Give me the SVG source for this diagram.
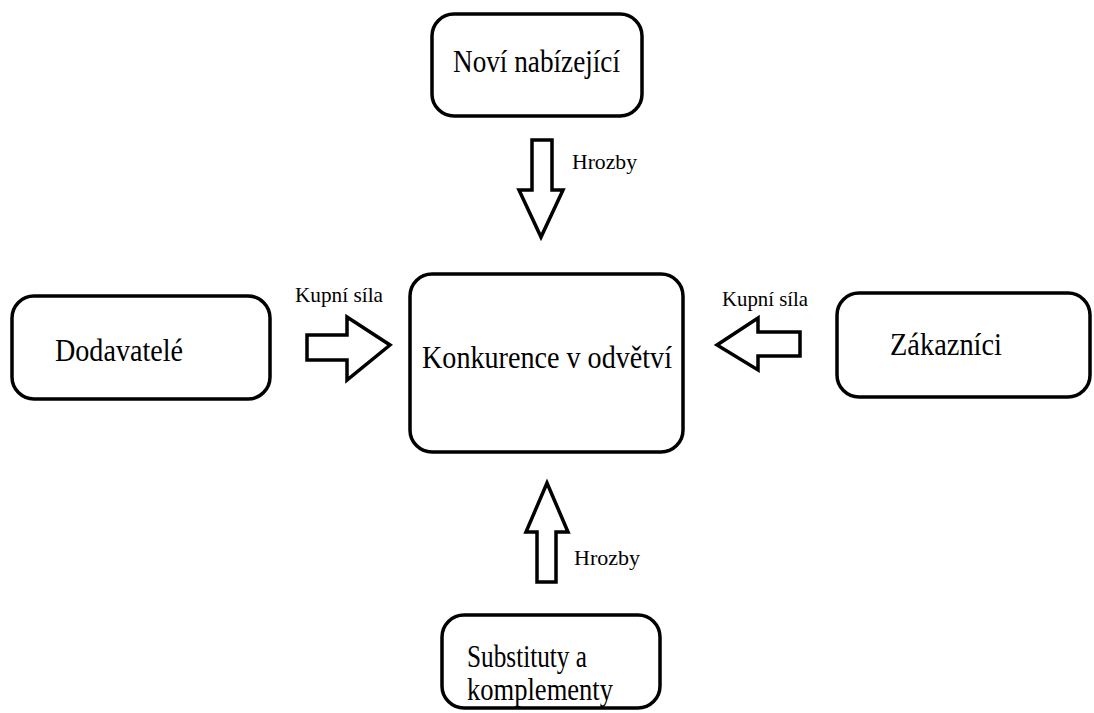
<svg xmlns="http://www.w3.org/2000/svg" width="1094" height="713" viewBox="0 0 1094 713">
<style>
.box{fill:#fff;stroke:#000;stroke-width:3.5}
.arr{fill:#fff;stroke:#000;stroke-width:3.5;stroke-linejoin:miter}
.t{font-family:"Liberation Serif","Times New Roman",serif;fill:#000}
.big{font-size:32px}
.sm{font-size:21px}
</style>
<rect width="1094" height="713" fill="#fff"/>
<g id="novi">
<rect class="box" x="432" y="14" width="210" height="102" rx="22"/>
<text class="t big" x="453" y="72" textLength="167" lengthAdjust="spacingAndGlyphs">Noví nabízející</text>
</g>
<g id="dodavatele">
<rect class="box" x="12" y="296" width="258" height="103" rx="22"/>
<text class="t big" x="55" y="361" textLength="128" lengthAdjust="spacingAndGlyphs">Dodavatelé</text>
</g>
<g id="konkurence">
<rect class="box" x="410" y="274" width="273" height="178" rx="22"/>
<text class="t big" x="422" y="368" textLength="250" lengthAdjust="spacingAndGlyphs">Konkurence v odvětví</text>
</g>
<g id="zakaznici">
<rect class="box" x="837" y="293" width="253" height="104" rx="22"/>
<text class="t big" x="890" y="355" textLength="112" lengthAdjust="spacingAndGlyphs">Zákazníci</text>
</g>
<g id="substituty">
<rect class="box" x="442" y="615" width="218" height="93" rx="22"/>
<text class="t big" x="467" y="667" textLength="120" lengthAdjust="spacingAndGlyphs">Substituty a</text>
<text class="t big" x="467" y="700" textLength="146" lengthAdjust="spacingAndGlyphs">komplementy</text>
</g>
<g id="connectors">
<polygon class="arr" points="532,140 552,140 552,190 563,190 541,237 519,190 532,190"/>
<text class="t sm" x="572" y="169" textLength="65" lengthAdjust="spacingAndGlyphs">Hrozby</text>
<polygon class="arr" points="307,335 347,335 347,317 390,345 347,380 347,360 307,360"/>
<text class="t sm" x="295" y="302" textLength="88" lengthAdjust="spacingAndGlyphs">Kupní síla</text>
<polygon class="arr" points="800,332 758,332 758,318 717,345 758,370 758,356 800,356"/>
<text class="t sm" x="722" y="306" textLength="86" lengthAdjust="spacingAndGlyphs">Kupní síla</text>
<polygon class="arr" points="537,582 556,582 556,532 568,532 547,483 526,532 537,532"/>
<text class="t sm" x="574" y="565" textLength="66" lengthAdjust="spacingAndGlyphs">Hrozby</text>
</g>
</svg>
